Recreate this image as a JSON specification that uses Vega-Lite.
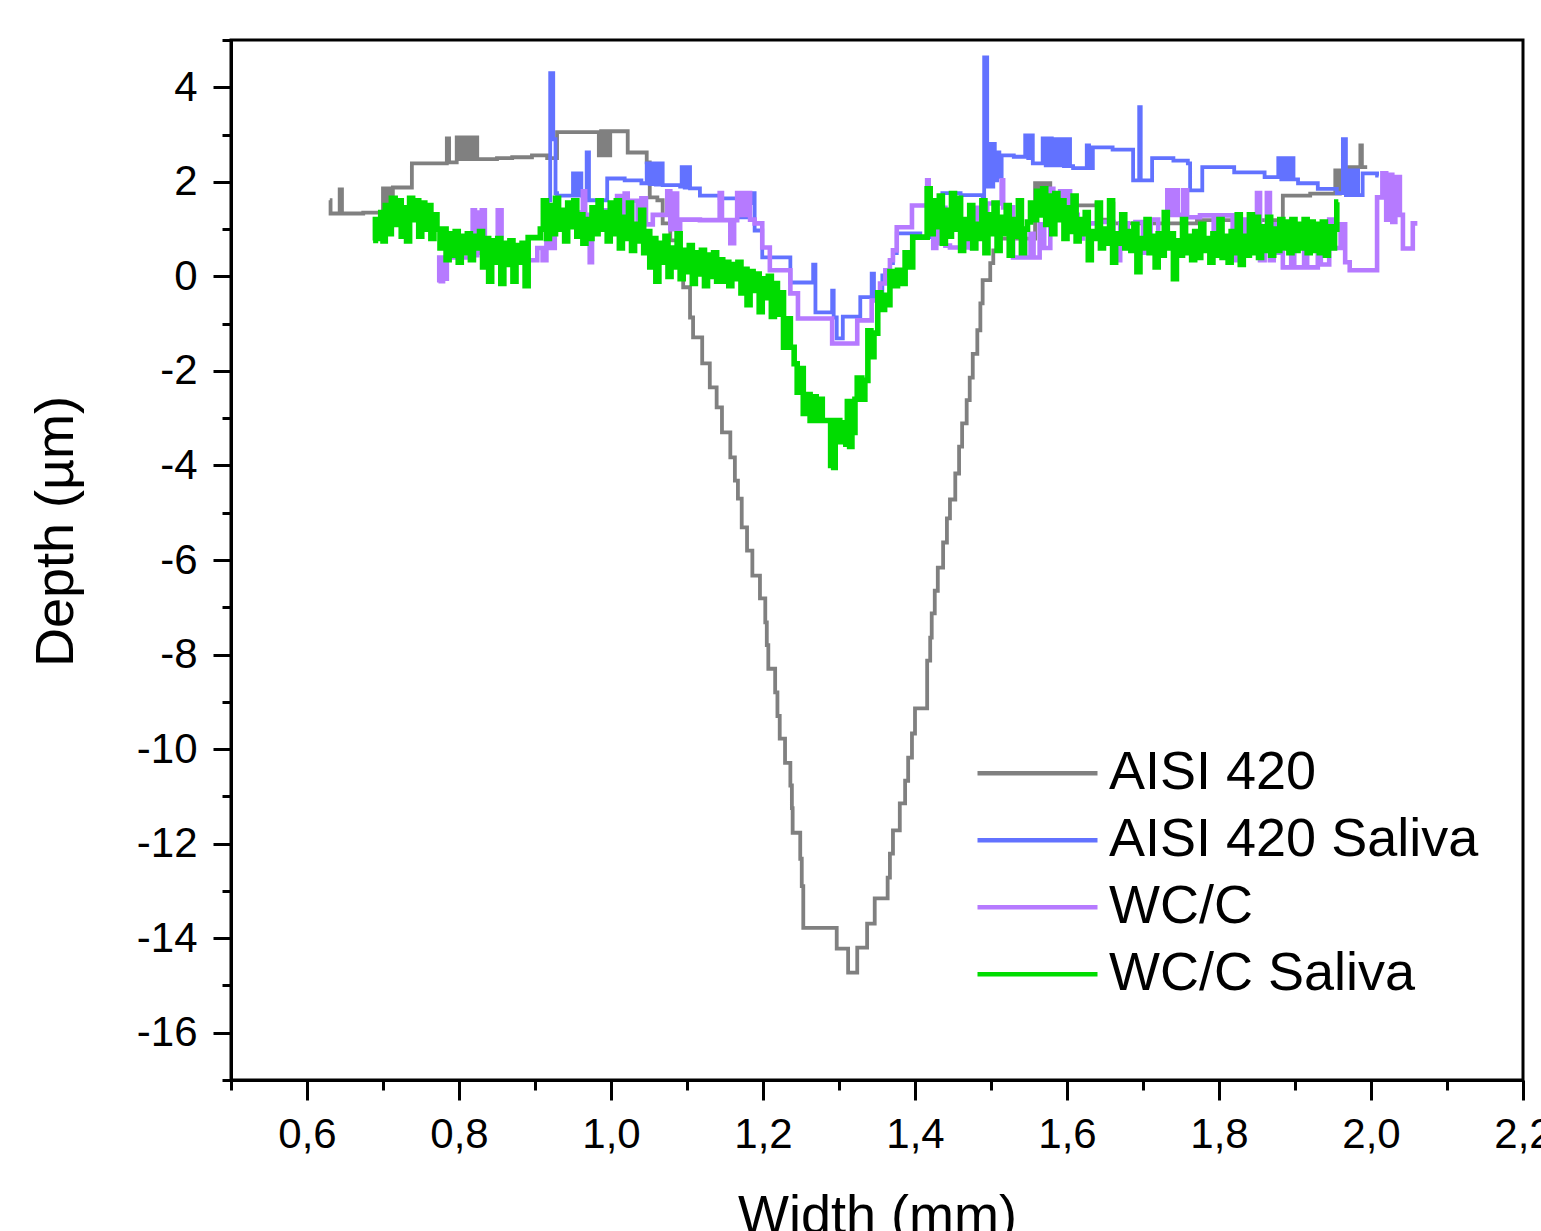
{
  "$schema": "https://vega.github.io/schema/vega-lite/v6.json",
  "autosize": {"type": "none"},
  "padding": {"left": 231, "top": 40, "right": 18, "bottom": 151},
  "width": 1292,
  "height": 1040,
  "background": "white",
  "config": {
    "view": {"stroke": "black", "strokeWidth": 3},
    "font": "Liberation Sans"
  },
  "datasets": {
    "gray": [
      {"x":0.630,"y":1.61},{"x":0.631,"y":1.33},{"x":0.643,"y":1.84},{"x":0.646,"y":1.33},{"x":0.674,"y":1.35},{"x":0.700,"y":1.86},{"x":0.702,"y":1.33},{"x":0.704,"y":1.86},{"x":0.706,"y":1.35},{"x":0.708,"y":1.86},{"x":0.710,"y":1.38},{"x":0.713,"y":1.88},{"x":0.738,"y":2.39},{"x":0.784,"y":2.92},{"x":0.787,"y":2.41},{"x":0.797,"y":2.94},{"x":0.800,"y":2.48},{"x":0.803,"y":2.94},{"x":0.806,"y":2.48},{"x":0.809,"y":2.94},{"x":0.812,"y":2.48},{"x":0.815,"y":2.94},{"x":0.818,"y":2.48},{"x":0.821,"y":2.94},{"x":0.824,"y":2.48},{"x":0.850,"y":2.50},{"x":0.870,"y":2.52},{"x":0.896,"y":2.56},{"x":0.916,"y":2.50},{"x":0.929,"y":3.05},{"x":0.982,"y":3.05},{"x":0.984,"y":2.56},{"x":0.987,"y":3.07},{"x":0.990,"y":2.56},{"x":0.993,"y":3.07},{"x":0.996,"y":2.56},{"x":0.999,"y":3.07},{"x":1.022,"y":2.62},{"x":1.047,"y":2.41},{"x":1.051,"y":1.67},{"x":1.061,"y":1.61},{"x":1.068,"y":1.12},{"x":1.078,"y":0.76},{"x":1.087,"y":0.34},{"x":1.095,"y":-0.23},{"x":1.104,"y":-0.87},{"x":1.108,"y":-1.29},{"x":1.120,"y":-1.84},{"x":1.130,"y":-2.35},{"x":1.139,"y":-2.77},{"x":1.146,"y":-3.30},{"x":1.157,"y":-3.83},{"x":1.163,"y":-4.32},{"x":1.167,"y":-4.70},{"x":1.172,"y":-5.31},{"x":1.179,"y":-5.80},{"x":1.186,"y":-6.33},{"x":1.196,"y":-6.81},{"x":1.203,"y":-7.32},{"x":1.205,"y":-7.80},{"x":1.207,"y":-8.30},{"x":1.216,"y":-8.80},{"x":1.219,"y":-9.30},{"x":1.222,"y":-9.78},{"x":1.229,"y":-10.29},{"x":1.236,"y":-10.77},{"x":1.238,"y":-11.25},{"x":1.239,"y":-11.77},{"x":1.249,"y":-12.32},{"x":1.251,"y":-12.90},{"x":1.253,"y":-13.78},{"x":1.297,"y":-14.22},{"x":1.312,"y":-14.73},{"x":1.324,"y":-14.20},{"x":1.337,"y":-13.69},{"x":1.347,"y":-13.16},{"x":1.364,"y":-12.72},{"x":1.367,"y":-12.21},{"x":1.371,"y":-11.72},{"x":1.380,"y":-11.15},{"x":1.387,"y":-10.67},{"x":1.391,"y":-10.18},{"x":1.396,"y":-9.67},{"x":1.400,"y":-9.14},{"x":1.416,"y":-8.13},{"x":1.420,"y":-7.64},{"x":1.422,"y":-7.13},{"x":1.426,"y":-6.65},{"x":1.430,"y":-6.16},{"x":1.437,"y":-5.63},{"x":1.442,"y":-5.12},{"x":1.446,"y":-4.72},{"x":1.453,"y":-4.17},{"x":1.458,"y":-3.60},{"x":1.462,"y":-3.11},{"x":1.468,"y":-2.62},{"x":1.472,"y":-2.14},{"x":1.476,"y":-1.64},{"x":1.482,"y":-1.14},{"x":1.486,"y":-0.57},{"x":1.489,"y":-0.08},{"x":1.499,"y":0.28},{"x":1.503,"y":0.55},{"x":1.512,"y":0.80},{"x":1.558,"y":1.97},{"x":1.560,"y":1.50},{"x":1.563,"y":1.97},{"x":1.566,"y":1.50},{"x":1.569,"y":1.97},{"x":1.572,"y":1.50},{"x":1.575,"y":1.97},{"x":1.578,"y":1.50},{"x":1.639,"y":1.54},{"x":1.641,"y":1.20},{"x":1.659,"y":1.54},{"x":1.661,"y":1.12},{"x":1.700,"y":1.12},{"x":1.771,"y":1.19},{"x":1.884,"y":1.71},{"x":1.920,"y":1.75},{"x":1.953,"y":2.24},{"x":1.956,"y":1.75},{"x":1.959,"y":2.24},{"x":1.962,"y":1.80},{"x":1.965,"y":2.24},{"x":1.970,"y":2.31},{"x":1.986,"y":2.77},{"x":1.988,"y":2.31},{"x":1.995,"y":2.31}
    ],
    "blue": [
      {"x":0.909,"y":1.25},{"x":0.917,"y":1.61},{"x":0.920,"y":4.30},{"x":0.924,"y":2.90},{"x":0.927,"y":1.76},{"x":0.929,"y":1.71},{"x":0.950,"y":2.18},{"x":0.952,"y":1.71},{"x":0.954,"y":2.18},{"x":0.956,"y":1.71},{"x":0.958,"y":2.18},{"x":0.961,"y":1.71},{"x":0.965,"y":1.67},{"x":0.968,"y":2.62},{"x":0.971,"y":1.61},{"x":0.986,"y":1.61},{"x":0.995,"y":2.07},{"x":1.018,"y":2.03},{"x":1.040,"y":1.97},{"x":1.047,"y":2.39},{"x":1.051,"y":1.95},{"x":1.055,"y":2.39},{"x":1.059,"y":1.94},{"x":1.063,"y":2.39},{"x":1.068,"y":1.93},{"x":1.091,"y":1.90},{"x":1.093,"y":2.31},{"x":1.097,"y":1.88},{"x":1.101,"y":2.31},{"x":1.104,"y":1.86},{"x":1.117,"y":1.71},{"x":1.143,"y":1.65},{"x":1.170,"y":1.25},{"x":1.174,"y":1.60},{"x":1.178,"y":1.25},{"x":1.183,"y":1.55},{"x":1.186,"y":1.76},{"x":1.189,"y":0.97},{"x":1.199,"y":0.40},{"x":1.236,"y":-0.13},{"x":1.266,"y":0.25},{"x":1.269,"y":-0.76},{"x":1.291,"y":-0.30},{"x":1.293,"y":-0.87},{"x":1.297,"y":-1.31},{"x":1.305,"y":-0.85},{"x":1.328,"y":-0.44},{"x":1.343,"y":0.06},{"x":1.346,"y":-0.44},{"x":1.357,"y":0.02},{"x":1.367,"y":0.28},{"x":1.371,"y":0.49},{"x":1.376,"y":0.91},{"x":1.407,"y":0.83},{"x":1.436,"y":1.76},{"x":1.460,"y":1.72},{"x":1.489,"y":1.67},{"x":1.491,"y":4.63},{"x":1.495,"y":1.90},{"x":1.497,"y":2.80},{"x":1.500,"y":1.90},{"x":1.503,"y":2.80},{"x":1.505,"y":2.03},{"x":1.508,"y":2.62},{"x":1.511,"y":2.10},{"x":1.514,"y":2.56},{"x":1.530,"y":2.53},{"x":1.545,"y":2.98},{"x":1.549,"y":2.50},{"x":1.551,"y":2.98},{"x":1.555,"y":2.39},{"x":1.568,"y":2.92},{"x":1.572,"y":2.35},{"x":1.576,"y":2.92},{"x":1.580,"y":2.35},{"x":1.584,"y":2.90},{"x":1.588,"y":2.35},{"x":1.592,"y":2.90},{"x":1.596,"y":2.33},{"x":1.600,"y":2.90},{"x":1.604,"y":2.33},{"x":1.608,"y":2.29},{"x":1.624,"y":2.29},{"x":1.626,"y":2.77},{"x":1.629,"y":2.29},{"x":1.634,"y":2.73},{"x":1.660,"y":2.68},{"x":1.687,"y":2.03},{"x":1.695,"y":3.58},{"x":1.697,"y":2.03},{"x":1.712,"y":2.50},{"x":1.740,"y":2.45},{"x":1.759,"y":2.39},{"x":1.762,"y":1.82},{"x":1.778,"y":2.31},{"x":1.820,"y":2.20},{"x":1.860,"y":2.10},{"x":1.878,"y":2.50},{"x":1.882,"y":2.05},{"x":1.886,"y":2.50},{"x":1.890,"y":2.05},{"x":1.894,"y":2.50},{"x":1.898,"y":2.05},{"x":1.904,"y":1.97},{"x":1.930,"y":1.85},{"x":1.955,"y":1.76},{"x":1.963,"y":2.90},{"x":1.967,"y":1.72},{"x":1.971,"y":2.24},{"x":1.975,"y":1.72},{"x":1.979,"y":2.24},{"x":1.983,"y":1.72},{"x":1.989,"y":2.18},{"x":2.008,"y":2.13},{"x":2.010,"y":2.13}
    ],
    "purple": [
      {"x":0.771,"y":-0.08},{"x":0.774,"y":0.40},{"x":0.776,"y":-0.10},{"x":0.779,"y":0.40},{"x":0.781,"y":-0.05},{"x":0.784,"y":0.40},{"x":0.818,"y":1.40},{"x":0.821,"y":0.45},{"x":0.824,"y":1.35},{"x":0.827,"y":0.50},{"x":0.830,"y":1.40},{"x":0.834,"y":0.34},{"x":0.851,"y":1.40},{"x":0.856,"y":0.34},{"x":0.903,"y":0.60},{"x":0.910,"y":0.34},{"x":0.915,"y":1.10},{"x":0.920,"y":0.60},{"x":0.926,"y":1.30},{"x":0.933,"y":1.35},{"x":0.963,"y":1.80},{"x":0.966,"y":1.30},{"x":0.972,"y":0.30},{"x":0.975,"y":1.30},{"x":0.985,"y":1.15},{"x":0.990,"y":1.40},{"x":1.000,"y":1.10},{"x":1.008,"y":1.70},{"x":1.012,"y":1.10},{"x":1.018,"y":1.75},{"x":1.022,"y":1.20},{"x":1.028,"y":1.60},{"x":1.035,"y":1.00},{"x":1.040,"y":1.65},{"x":1.046,"y":1.10},{"x":1.055,"y":1.30},{"x":1.074,"y":1.80},{"x":1.078,"y":1.00},{"x":1.082,"y":1.75},{"x":1.087,"y":0.85},{"x":1.091,"y":1.20},{"x":1.117,"y":1.19},{"x":1.143,"y":1.76},{"x":1.146,"y":1.19},{"x":1.157,"y":0.70},{"x":1.162,"y":1.19},{"x":1.166,"y":1.76},{"x":1.172,"y":1.30},{"x":1.177,"y":1.76},{"x":1.183,"y":1.20},{"x":1.189,"y":1.12},{"x":1.199,"y":0.61},{"x":1.209,"y":0.13},{"x":1.236,"y":-0.36},{"x":1.246,"y":-0.89},{"x":1.291,"y":-1.42},{"x":1.324,"y":-0.93},{"x":1.343,"y":-0.51},{"x":1.354,"y":-0.15},{"x":1.361,"y":0.13},{"x":1.367,"y":0.34},{"x":1.371,"y":0.55},{"x":1.376,"y":1.04},{"x":1.396,"y":1.50},{"x":1.416,"y":2.03},{"x":1.418,"y":1.50},{"x":1.424,"y":0.60},{"x":1.428,"y":1.50},{"x":1.432,"y":0.70},{"x":1.436,"y":1.45},{"x":1.440,"y":0.65},{"x":1.446,"y":0.61},{"x":1.468,"y":1.00},{"x":1.474,"y":0.60},{"x":1.480,"y":1.45},{"x":1.486,"y":0.90},{"x":1.495,"y":1.54},{"x":1.514,"y":2.03},{"x":1.516,"y":1.46},{"x":1.529,"y":0.40},{"x":1.540,"y":1.00},{"x":1.545,"y":0.40},{"x":1.552,"y":0.90},{"x":1.556,"y":0.40},{"x":1.564,"y":1.10},{"x":1.570,"y":0.60},{"x":1.578,"y":1.85},{"x":1.582,"y":1.20},{"x":1.587,"y":1.30},{"x":1.591,"y":1.80},{"x":1.596,"y":1.25},{"x":1.600,"y":1.80},{"x":1.604,"y":1.25},{"x":1.608,"y":1.30},{"x":1.614,"y":0.80},{"x":1.621,"y":1.12},{"x":1.640,"y":1.15},{"x":1.661,"y":0.34},{"x":1.670,"y":1.12},{"x":1.680,"y":0.60},{"x":1.690,"y":1.15},{"x":1.700,"y":0.50},{"x":1.710,"y":1.20},{"x":1.720,"y":0.90},{"x":1.732,"y":1.82},{"x":1.736,"y":1.30},{"x":1.741,"y":1.82},{"x":1.746,"y":1.30},{"x":1.753,"y":1.82},{"x":1.758,"y":1.25},{"x":1.775,"y":1.29},{"x":1.793,"y":0.60},{"x":1.797,"y":1.29},{"x":1.818,"y":0.34},{"x":1.822,"y":1.20},{"x":1.830,"y":0.60},{"x":1.836,"y":1.20},{"x":1.842,"y":0.50},{"x":1.850,"y":1.76},{"x":1.854,"y":0.34},{"x":1.860,"y":0.80},{"x":1.863,"y":1.76},{"x":1.867,"y":0.34},{"x":1.872,"y":1.10},{"x":1.878,"y":0.50},{"x":1.884,"y":0.19},{"x":1.895,"y":1.19},{"x":1.899,"y":0.19},{"x":1.912,"y":1.15},{"x":1.916,"y":0.19},{"x":1.930,"y":1.10},{"x":1.934,"y":0.25},{"x":1.945,"y":1.20},{"x":1.950,"y":0.60},{"x":1.960,"y":1.10},{"x":1.966,"y":0.30},{"x":1.972,"y":0.13},{"x":2.008,"y":1.67},{"x":2.015,"y":2.18},{"x":2.020,"y":1.20},{"x":2.024,"y":2.15},{"x":2.028,"y":1.15},{"x":2.032,"y":2.10},{"x":2.038,"y":1.30},{"x":2.042,"y":0.59},{"x":2.055,"y":1.12},{"x":2.061,"y":1.12}
    ],
    "green": [
      {"x":0.687,"y":0.76},{"x":0.690,"y":1.20},{"x":0.693,"y":0.80},{"x":0.697,"y":1.35},{"x":0.700,"y":0.75},{"x":0.703,"y":1.50},{"x":0.707,"y":0.90},{"x":0.711,"y":1.65},{"x":0.716,"y":1.10},{"x":0.720,"y":1.60},{"x":0.724,"y":0.85},{"x":0.727,"y":1.45},{"x":0.731,"y":0.75},{"x":0.735,"y":1.65},{"x":0.739,"y":1.20},{"x":0.743,"y":1.60},{"x":0.747,"y":0.85},{"x":0.751,"y":1.55},{"x":0.755,"y":1.00},{"x":0.759,"y":1.50},{"x":0.763,"y":0.80},{"x":0.767,"y":1.30},{"x":0.771,"y":1.00},
      {"x":0.775,"y":0.60},{"x":0.779,"y":1.00},{"x":0.783,"y":0.35},{"x":0.787,"y":0.90},{"x":0.791,"y":0.45},{"x":0.795,"y":0.95},{"x":0.799,"y":0.30},{"x":0.803,"y":0.85},{"x":0.807,"y":0.50},{"x":0.811,"y":0.90},{"x":0.815,"y":0.35},{"x":0.819,"y":0.85},{"x":0.823,"y":0.60},{"x":0.827,"y":0.95},{"x":0.831,"y":0.20},{"x":0.835,"y":0.80},{"x":0.839,"y":-0.10},{"x":0.843,"y":0.75},{"x":0.847,"y":0.30},{"x":0.851,"y":0.80},{"x":0.855,"y":-0.15},{"x":0.859,"y":0.70},{"x":0.863,"y":0.25},{"x":0.867,"y":0.75},{"x":0.871,"y":-0.10},{"x":0.875,"y":0.65},{"x":0.879,"y":0.30},{"x":0.883,"y":0.70},{"x":0.887,"y":-0.20},
      {"x":0.891,"y":0.82},{"x":0.907,"y":1.00},
      {"x":0.911,"y":1.60},{"x":0.915,"y":0.80},{"x":0.919,"y":1.50},{"x":0.923,"y":0.90},{"x":0.927,"y":1.65},{"x":0.931,"y":1.00},{"x":0.935,"y":1.40},{"x":0.939,"y":0.75},{"x":0.943,"y":1.55},{"x":0.947,"y":1.05},{"x":0.951,"y":1.60},{"x":0.955,"y":0.85},{"x":0.959,"y":1.30},{"x":0.963,"y":0.70},{"x":0.967,"y":1.20},{"x":0.971,"y":0.80},{"x":0.975,"y":1.45},{"x":0.979,"y":0.90},{"x":0.983,"y":1.60},{"x":0.987,"y":1.00},{"x":0.991,"y":1.35},{"x":0.995,"y":0.75},{"x":0.999,"y":1.55},
      {"x":1.003,"y":0.90},{"x":1.007,"y":1.60},{"x":1.011,"y":0.60},{"x":1.015,"y":1.25},{"x":1.019,"y":0.80},{"x":1.023,"y":1.55},{"x":1.027,"y":0.55},{"x":1.031,"y":1.10},{"x":1.035,"y":0.75},{"x":1.039,"y":1.40},
      {"x":1.043,"y":0.50},{"x":1.047,"y":0.95},{"x":1.051,"y":0.20},{"x":1.055,"y":0.80},{"x":1.059,"y":-0.10},{"x":1.063,"y":0.70},{"x":1.067,"y":0.30},{"x":1.071,"y":0.85},{"x":1.075,"y":0.00},{"x":1.079,"y":0.60},{"x":1.083,"y":0.20},{"x":1.087,"y":0.90},{"x":1.091,"y":-0.05},{"x":1.095,"y":0.55},{"x":1.099,"y":0.10},{"x":1.103,"y":0.65},{"x":1.107,"y":-0.15},{"x":1.111,"y":0.50},{"x":1.115,"y":0.05},{"x":1.119,"y":0.55},{"x":1.123,"y":-0.20},{"x":1.127,"y":0.45},{"x":1.131,"y":0.00},{"x":1.135,"y":0.50},{"x":1.139,"y":-0.10},
      {"x":1.143,"y":0.35},{"x":1.147,"y":-0.10},{"x":1.151,"y":0.30},{"x":1.155,"y":-0.20},{"x":1.159,"y":0.25},{"x":1.163,"y":-0.05},{"x":1.167,"y":0.30},{"x":1.171,"y":-0.35},{"x":1.175,"y":0.15},{"x":1.179,"y":-0.60},{"x":1.183,"y":0.10},{"x":1.187,"y":-0.30},{"x":1.191,"y":0.05},{"x":1.195,"y":-0.75},{"x":1.199,"y":-0.05},{"x":1.203,"y":-0.45},{"x":1.207,"y":0.00},{"x":1.211,"y":-0.85},{"x":1.215,"y":-0.15},{"x":1.219,"y":-0.80},{"x":1.223,"y":-0.35},{"x":1.227,"y":-1.50},{"x":1.231,"y":-0.90},{"x":1.236,"y":-1.50},{"x":1.241,"y":-1.85},{"x":1.245,"y":-2.45},{"x":1.249,"y":-1.95},{"x":1.253,"y":-2.90},{"x":1.257,"y":-2.50},{"x":1.262,"y":-3.05},{"x":1.266,"y":-2.55},{"x":1.270,"y":-3.05},{"x":1.274,"y":-2.60},{"x":1.278,"y":-3.05},{"x":1.289,"y":-4.00},{"x":1.291,"y":-3.40},{"x":1.293,"y":-4.04},{"x":1.295,"y":-3.05},{"x":1.301,"y":-3.50},{"x":1.305,"y":-3.10},{"x":1.309,"y":-3.55},{"x":1.311,"y":-2.65},{"x":1.314,"y":-3.60},{"x":1.317,"y":-3.30},{"x":1.321,"y":-2.60},{"x":1.324,"y":-2.15},{"x":1.330,"y":-2.60},{"x":1.334,"y":-2.20},{"x":1.338,"y":-1.15},{"x":1.342,"y":-1.70},{"x":1.346,"y":-1.20},{"x":1.351,"y":-0.35},{"x":1.355,"y":-0.70},{"x":1.360,"y":-0.40},{"x":1.364,"y":-0.60},{"x":1.367,"y":0.10},{"x":1.372,"y":-0.20},{"x":1.377,"y":0.13},{"x":1.381,"y":-0.15},{"x":1.387,"y":0.50},{"x":1.391,"y":0.20},{"x":1.397,"y":0.83},
      {"x":1.416,"y":1.85},{"x":1.420,"y":0.90},{"x":1.424,"y":1.60},{"x":1.428,"y":1.05},{"x":1.432,"y":1.70},{"x":1.436,"y":0.70},{"x":1.440,"y":1.40},{"x":1.444,"y":0.85},{"x":1.448,"y":1.75},{"x":1.452,"y":1.00},{"x":1.456,"y":1.65},{"x":1.460,"y":0.55},{"x":1.464,"y":1.20},{"x":1.468,"y":0.80},{"x":1.472,"y":1.50},{"x":1.476,"y":0.60},{"x":1.480,"y":1.10},{"x":1.484,"y":0.80},{"x":1.488,"y":1.60},{"x":1.492,"y":0.50},{"x":1.496,"y":1.30},{"x":1.500,"y":0.90},{"x":1.504,"y":1.55},{"x":1.508,"y":0.55},{"x":1.512,"y":1.25},{"x":1.516,"y":0.90},{"x":1.520,"y":1.50},{"x":1.524,"y":0.45},{"x":1.528,"y":1.20},{"x":1.532,"y":0.85},{"x":1.536,"y":1.60},{"x":1.540,"y":0.50},{"x":1.544,"y":1.00},{"x":1.548,"y":1.15},{"x":1.552,"y":1.55},{"x":1.556,"y":1.20},{"x":1.560,"y":1.80},{"x":1.564,"y":1.30},{"x":1.568,"y":1.85},{"x":1.572,"y":1.10},{"x":1.576,"y":1.70},{"x":1.580,"y":0.90},{"x":1.584,"y":1.75},{"x":1.588,"y":1.20},{"x":1.592,"y":1.60},{"x":1.596,"y":0.80},{"x":1.600,"y":1.45},{"x":1.604,"y":0.95},{"x":1.608,"y":1.70},{"x":1.612,"y":0.75},{"x":1.616,"y":1.20},{"x":1.620,"y":0.90},{"x":1.624,"y":1.35},{"x":1.628,"y":0.35},{"x":1.632,"y":0.95},{"x":1.636,"y":0.80},{"x":1.640,"y":1.55},{"x":1.644,"y":0.60},{"x":1.648,"y":1.00},{"x":1.652,"y":0.70},{"x":1.656,"y":1.60},{"x":1.660,"y":0.30},{"x":1.664,"y":0.90},{"x":1.668,"y":0.70},{"x":1.672,"y":1.30},{"x":1.676,"y":0.60},{"x":1.680,"y":0.95},{"x":1.684,"y":0.55},{"x":1.688,"y":1.10},{"x":1.692,"y":0.10},{"x":1.696,"y":0.80},{"x":1.700,"y":0.60},{"x":1.704,"y":1.20},{"x":1.708,"y":0.50},{"x":1.712,"y":0.85},{"x":1.716,"y":0.20},{"x":1.720,"y":0.90},{"x":1.724,"y":0.45},{"x":1.728,"y":1.35},{"x":1.732,"y":0.60},{"x":1.736,"y":0.90},{"x":1.740,"y":-0.05},{"x":1.744,"y":0.75},{"x":1.748,"y":0.45},{"x":1.752,"y":1.20},{"x":1.756,"y":0.50},{"x":1.760,"y":0.85},{"x":1.764,"y":0.35},{"x":1.768,"y":0.95},{"x":1.772,"y":0.40},{"x":1.776,"y":1.10},{"x":1.780,"y":0.55},{"x":1.784,"y":0.80},{"x":1.788,"y":0.30},{"x":1.792,"y":0.90},{"x":1.796,"y":0.45},{"x":1.800,"y":1.20},{"x":1.804,"y":0.40},{"x":1.808,"y":0.85},{"x":1.812,"y":0.30},{"x":1.816,"y":0.95},{"x":1.820,"y":0.50},{"x":1.824,"y":1.30},{"x":1.828,"y":0.25},{"x":1.832,"y":0.85},{"x":1.836,"y":0.45},{"x":1.840,"y":1.30},{"x":1.844,"y":0.50},{"x":1.848,"y":1.25},{"x":1.852,"y":0.40},{"x":1.856,"y":1.05},{"x":1.860,"y":0.55},{"x":1.864,"y":1.25},{"x":1.868,"y":0.45},{"x":1.872,"y":1.00},{"x":1.876,"y":0.55},{"x":1.880,"y":1.20},{"x":1.884,"y":0.60},{"x":1.888,"y":1.15},{"x":1.892,"y":0.50},{"x":1.896,"y":1.20},{"x":1.900,"y":0.55},{"x":1.904,"y":1.10},{"x":1.908,"y":0.60},{"x":1.912,"y":1.20},{"x":1.916,"y":0.50},{"x":1.920,"y":1.15},{"x":1.924,"y":0.55},{"x":1.928,"y":1.10},{"x":1.932,"y":0.50},{"x":1.936,"y":1.15},{"x":1.940,"y":0.45},{"x":1.944,"y":1.05},{"x":1.948,"y":0.60},{"x":1.952,"y":1.00},{"x":1.955,"y":1.57},{"x":1.957,"y":1.57}
    ]
  },
  "encoding": {
    "x": {
      "field": "x", "type": "quantitative",
      "scale": {"domain": [0.5, 2.2], "nice": false, "zero": false},
      "axis": {
        "values": [0.5,0.6,0.7,0.8,0.9,1.0,1.1,1.2,1.3,1.4,1.5,1.6,1.7,1.8,1.9,2.0,2.1,2.2],
        "labelExpr": "round(datum.value*10)%2==0 ? replace(format(datum.value,'.1f'),'.',',') : ''",
        "tickSize": {"condition": {"test": "round(datum.value*10)%2==0", "value": 20}, "value": 10},
        "tickWidth": 3, "tickColor": "black",
        "domainColor": "black", "domainWidth": 3,
        "grid": false,
        "labelFont": "Liberation Sans", "labelFontSize": 42, "labelColor": "black",
        "labelPadding": 14, "labelFlush": false, "labelOverlap": false,
        "title": "Width (mm)", "titleFont": "Liberation Sans", "titleFontSize": 54,
        "titleFontWeight": "normal", "titleColor": "black",
        "titleBaseline": "alphabetic", "titleAlign": "center", "titleX": 646, "titleY": 152
      }
    },
    "y": {
      "field": "y", "type": "quantitative",
      "scale": {"domain": [-17, 5], "nice": false, "zero": false},
      "axis": {
        "values": [-17,-16,-15,-14,-13,-12,-11,-10,-9,-8,-7,-6,-5,-4,-3,-2,-1,0,1,2,3,4,5],
        "labelExpr": "datum.value%2==0 ? toString(datum.value) : ''",
        "tickSize": {"condition": {"test": "datum.value%2==0", "value": 18}, "value": 9},
        "tickWidth": 3, "tickColor": "black",
        "domainColor": "black", "domainWidth": 3,
        "grid": false,
        "labelFont": "Liberation Sans", "labelFontSize": 42, "labelColor": "black",
        "labelPadding": 16, "labelFlush": false, "labelOverlap": false,
        "title": "Depth (µm)", "titleFont": "Liberation Sans", "titleFontSize": 54,
        "titleFontWeight": "normal", "titleColor": "black",
        "titleAngle": 270, "titleBaseline": "alphabetic", "titleAlign": "center",
        "titleX": -159, "titleY": 491
      }
    }
  },
  "layer": [
    {
      "data": {"name": "gray"},
      "mark": {"type": "line", "interpolate": "step-after", "strokeWidth": 3.8},
      "encoding": {
        "color": {
          "datum": "AISI 420", "type": "nominal",
          "scale": {"domain": ["AISI 420", "AISI 420 Saliva", "WC/C", "WC/C Saliva"], "range": ["#808080", "#6272ff", "#b67aff", "#00dc00"]},
          "legend": {
            "orient": "none", "legendX": 744, "legendY": 700, "title": null,
            "symbolType": "stroke", "symbolSize": 14400, "symbolStrokeWidth": 4.5,
            "labelFont": "Liberation Sans", "labelFontSize": 54, "labelColor": "black",
            "labelOffset": 9, "labelLimit": 0, "clipHeight": 66.5, "rowPadding": 0, "padding": 0
          }
        }
      }
    },
    {
      "data": {"name": "blue"},
      "mark": {"type": "line", "interpolate": "step-after", "strokeWidth": 3.8},
      "encoding": {"color": {"datum": "AISI 420 Saliva", "type": "nominal"}}
    },
    {
      "data": {"name": "purple"},
      "mark": {"type": "line", "interpolate": "step-after", "strokeWidth": 4.6},
      "encoding": {"color": {"datum": "WC/C", "type": "nominal"}}
    },
    {
      "data": {"name": "green"},
      "mark": {"type": "line", "interpolate": "step-after", "strokeWidth": 5.6},
      "encoding": {"color": {"datum": "WC/C Saliva", "type": "nominal"}}
    }
  ]
}
